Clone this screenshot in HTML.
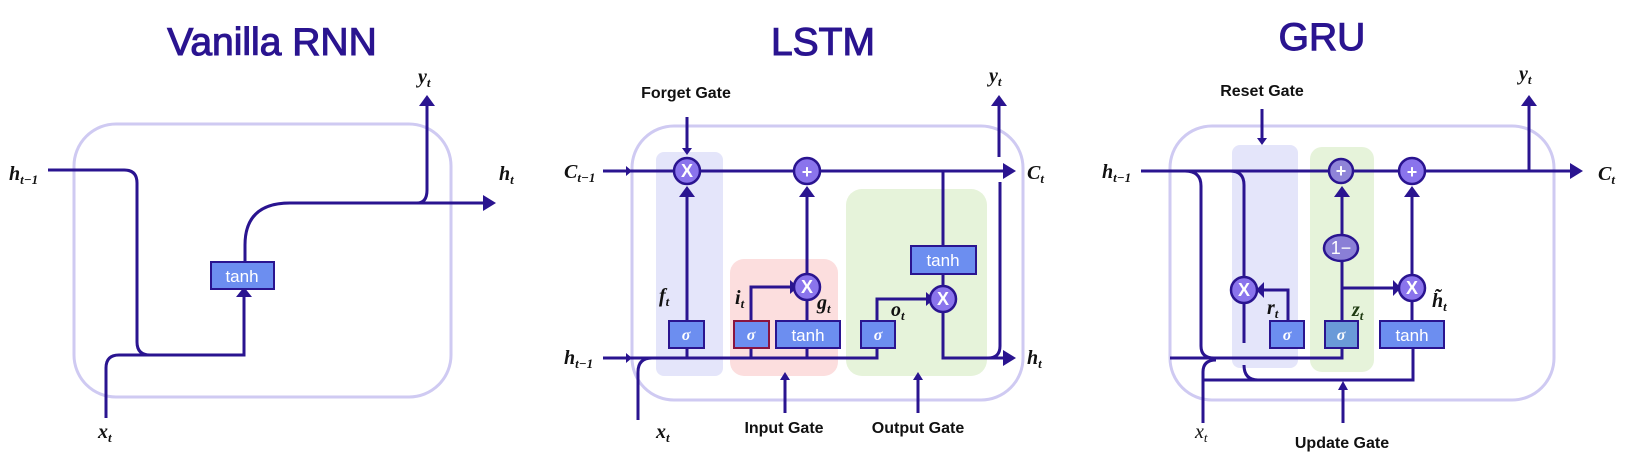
<!DOCTYPE html>
<html><head><meta charset="utf-8"><style>
html,body{margin:0;padding:0;background:#fff;}
svg{display:block;}
.title{font-family:"Liberation Sans",sans-serif;font-size:39px;fill:#2a1490;stroke:#2a1490;stroke-width:1.1;font-weight:normal;}
.lab{font-family:"Liberation Sans",sans-serif;font-size:16px;fill:#111;font-weight:bold;stroke:none;}
.m{font-family:"Liberation Serif",serif;font-style:italic;font-weight:bold;fill:#111;font-size:20px;}
.ms{font-size:13px;}
.ln{stroke:#2a1490;stroke-width:3;fill:none;}
.bx{fill:#6c8ef0;stroke:#2a1490;stroke-width:2;}
.bt{font-family:"Liberation Sans",sans-serif;fill:#fff;font-size:17px;text-anchor:middle;}
.sg{font-family:"Liberation Serif",serif;font-style:italic;font-weight:bold;fill:#fff;font-size:16px;text-anchor:middle;}
.ci{fill:#8a74ec;stroke:#2a1490;stroke-width:2.5;}
.ct{font-family:"Liberation Sans",sans-serif;fill:#fff;font-size:18px;font-weight:bold;text-anchor:middle;}
.cell{fill:none;stroke:#cfcaf2;stroke-width:3;}
.ah{fill:#2a1490;}
</style></head><body>
<svg width="1634" height="467" viewBox="0 0 1634 467" xmlns="http://www.w3.org/2000/svg">
<text class="title" x="272" y="55" text-anchor="middle">Vanilla RNN</text>
<text class="title" x="823" y="55" text-anchor="middle">LSTM</text>
<text class="title" x="1322" y="50" text-anchor="middle">GRU</text>

<rect class="cell" x="74" y="124" width="377" height="273" rx="42"/>
<path class="ln" d="M48 170 H124 Q137 170 137 183 V342 Q137 355 150 355 H244 V295"/>
<polygon class="ah" points="236,297 252,297 244,287"/>
<path class="ln" d="M106 418 V368 Q106 355 119 355 H150"/>
<rect class="bx" x="211" y="262" width="63" height="27"/>
<text class="bt" x="242" y="282">tanh</text>
<path class="ln" d="M245 262 V245 Q245 203 290 203 H485"/>
<polygon class="ah" points="483,195 483,211 496,203"/>
<path class="ln" d="M417 203 Q427 203 427 190 V104"/>
<polygon class="ah" points="419,106 435,106 427,95"/>
<text class="m" x="9" y="180">h<tspan class="ms" dy="4">t−1</tspan></text>
<text class="m" x="499" y="180">h<tspan class="ms" dy="4">t</tspan></text>
<text class="m" x="418" y="83">y<tspan class="ms" dy="4">t</tspan></text>
<text class="m" x="98" y="438">x<tspan class="ms" dy="4">t</tspan></text>

<rect x="656" y="152" width="67" height="224" rx="8" fill="#e4e5fa"/>
<rect x="730" y="259" width="108" height="117" rx="14" fill="#fcdede"/>
<rect x="846" y="189" width="141" height="187" rx="16" fill="#e6f3da"/>
<rect class="cell" x="632" y="126" width="391" height="274" rx="42"/>
<path class="ln" d="M603 171 H1005"/>
<polygon class="ah" points="626,166 626,176 632,171"/>
<polygon class="ah" points="1003,163 1003,179 1016,171"/>
<path class="ln" d="M603 358 H877 V348"/>
<polygon class="ah" points="626,353 626,363 632,358"/>
<path class="ln" d="M638 420 V372 Q638 358 652 358"/>
<path class="ln" d="M687 117 V150"/>
<polygon class="ah" points="682,148 692,148 687,155"/>
<path class="ln" d="M687 321 V195"/>
<polygon class="ah" points="679,197 695,197 687,186"/>
<rect class="bx" x="669" y="321" width="35" height="27"/>
<text class="sg" x="686" y="340">σ</text>
<path class="ln" d="M687 348 V358"/>
<circle class="ci" cx="687" cy="171" r="13"/>
<text class="ct" x="687" y="177">X</text>
<path class="ln" d="M751 358 V348 M751 321 V287 H792"/>
<polygon class="ah" points="790,280 790,294 798,287"/>
<path class="ln" d="M807 358 V348 M807 321 V195"/>
<polygon class="ah" points="799,197 815,197 807,186"/>
<rect class="bx" x="734" y="321" width="35" height="27" style="stroke:#8a1440"/>
<text class="sg" x="751" y="340">σ</text>
<rect class="bx" x="776" y="321" width="64" height="27"/>
<text class="bt" x="808" y="341">tanh</text>
<circle class="ci" cx="807" cy="287" r="13"/>
<text class="ct" x="807" y="293">X</text>
<circle class="ci" cx="807" cy="171" r="13"/>
<text class="ct" x="807" y="178">+</text>
<path class="ln" d="M877 321 V299 H928"/>
<polygon class="ah" points="926,292 926,306 934,299"/>
<rect class="bx" x="861" y="321" width="34" height="27"/>
<text class="sg" x="878" y="340">σ</text>
<path class="ln" d="M943 171 V246 M943 274 V358 H1005"/>
<polygon class="ah" points="1003,350 1003,366 1016,358"/>
<rect class="bx" x="911" y="246" width="65" height="28"/>
<text class="bt" x="943" y="266">tanh</text>
<circle class="ci" cx="943" cy="299" r="13"/>
<text class="ct" x="943" y="305">X</text>
<path class="ln" d="M1000 182 V346 Q1000 358 988 358"/>
<path class="ln" d="M999 157 V104"/>
<polygon class="ah" points="991,106 1007,106 999,95"/>
<path class="ln" d="M785 413 V378"/>
<polygon class="ah" points="780,380 790,380 785,372"/>
<path class="ln" d="M918 413 V378"/>
<polygon class="ah" points="913,380 923,380 918,372"/>
<text class="lab" x="686" y="98" text-anchor="middle">Forget Gate</text>
<text class="lab" x="784" y="433" text-anchor="middle">Input Gate</text>
<text class="lab" x="918" y="433" text-anchor="middle">Output Gate</text>
<text class="m" x="564" y="178">C<tspan class="ms" dy="4">t−1</tspan></text>
<text class="m" x="564" y="364">h<tspan class="ms" dy="4">t−1</tspan></text>
<text class="m" x="1027" y="179">C<tspan class="ms" dy="4">t</tspan></text>
<text class="m" x="1027" y="364">h<tspan class="ms" dy="4">t</tspan></text>
<text class="m" x="989" y="82">y<tspan class="ms" dy="4">t</tspan></text>
<text class="m" x="659" y="302">f<tspan class="ms" dy="4">t</tspan></text>
<text class="m" x="735" y="304">i<tspan class="ms" dy="4">t</tspan></text>
<text class="m" x="817" y="309">g<tspan class="ms" dy="4">t</tspan></text>
<text class="m" x="891" y="316">o<tspan class="ms" dy="4">t</tspan></text>
<text class="m" x="656" y="438">x<tspan class="ms" dy="4">t</tspan></text>

<rect x="1232" y="145" width="66" height="223" rx="8" fill="#e4e5fa"/>
<rect x="1310" y="147" width="64" height="225" rx="12" fill="#e6f3da"/>
<rect class="cell" x="1170" y="126" width="384" height="274" rx="42"/>
<path class="ln" d="M1141 171 H1572"/>
<polygon class="ah" points="1570,163 1570,179 1583,171"/>
<path class="ln" d="M1529 171 V104"/>
<polygon class="ah" points="1521,106 1537,106 1529,95"/>
<path class="ln" d="M1185 171 Q1201 171 1201 186 V346 Q1201 358 1214 358"/>
<path class="ln" d="M1230 171 Q1244 171 1244 185 V343"/>
<path class="ln" d="M1170 358 H1342 V348"/>
<path class="ln" d="M1203 423 V372 Q1203 360 1216 360"/>
<path class="ln" d="M1203 380 H1413 V348"/>
<path class="ln" d="M1244 365 Q1244 380 1258 380"/>
<path class="ln" d="M1262 109 V140"/>
<polygon class="ah" points="1257,138 1267,138 1262,145"/>
<path class="ln" d="M1343 423 V388"/>
<polygon class="ah" points="1338,390 1348,390 1343,381"/>
<path class="ln" d="M1288 321 V290 H1262"/>
<polygon class="ah" points="1264,282 1264,298 1256,290"/>
<rect class="bx" x="1270" y="321" width="34" height="27"/>
<text class="sg" x="1287" y="340">σ</text>
<circle class="ci" cx="1244" cy="290" r="13"/>
<text class="ct" x="1244" y="296">X</text>
<rect class="bx" x="1325" y="321" width="33" height="27" style="fill:#6a9ad8"/>
<text class="sg" x="1341" y="340">σ</text>
<path class="ln" d="M1342 321 V195"/>
<polygon class="ah" points="1334,197 1350,197 1342,186"/>
<path class="ln" d="M1342 288 H1395"/>
<polygon class="ah" points="1393,280 1393,296 1401,288"/>
<ellipse class="ci" cx="1341" cy="248" rx="17" ry="13" style="fill:#8a7fd6"/>
<text class="ct" x="1341" y="254" style="font-weight:normal">1−</text>
<circle class="ci" cx="1341" cy="171" r="12" style="fill:#8f84d8"/>
<text class="ct" x="1341" y="177">+</text>
<rect class="bx" x="1380" y="321" width="64" height="27"/>
<text class="bt" x="1412" y="341">tanh</text>
<path class="ln" d="M1412 321 V195"/>
<polygon class="ah" points="1404,197 1420,197 1412,186"/>
<circle class="ci" cx="1412" cy="288" r="13"/>
<text class="ct" x="1412" y="294">X</text>
<circle class="ci" cx="1412" cy="171" r="13"/>
<text class="ct" x="1412" y="178">+</text>
<text class="lab" x="1262" y="96" text-anchor="middle">Reset Gate</text>
<text class="lab" x="1342" y="448" text-anchor="middle">Update Gate</text>
<text class="m" x="1102" y="178">h<tspan class="ms" dy="4">t−1</tspan></text>
<text class="m" x="1598" y="180">C<tspan class="ms" dy="4">t</tspan></text>
<text class="m" x="1519" y="80">y<tspan class="ms" dy="4">t</tspan></text>
<text class="m" x="1267" y="314">r<tspan class="ms" dy="4">t</tspan></text>
<text class="m" x="1352" y="316" style="fill:#1e3a10">z<tspan class="ms" dy="4">t</tspan></text>
<text class="m" x="1432" y="307">h̃<tspan class="ms" dy="4">t</tspan></text>
<text class="m" x="1195" y="438" style="font-weight:normal">x<tspan class="ms" dy="4">t</tspan></text>
</svg>
</body></html>
